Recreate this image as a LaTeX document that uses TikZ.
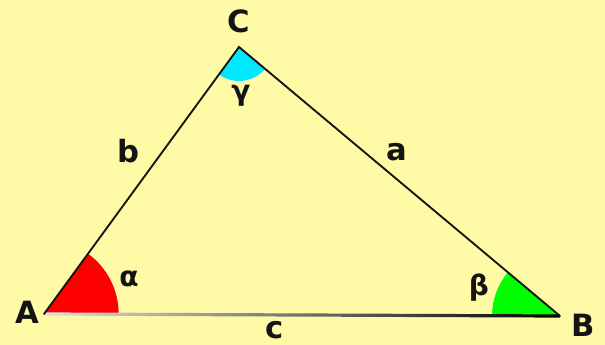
\documentclass[tikz,border=0pt]{standalone}
\usepackage{fontspec}
\setmainfont{DejaVu Sans}
\usetikzlibrary{angles,calc}
\definecolor{paper}{HTML}{FFFAA6}
\definecolor{ink}{HTML}{141414}
\definecolor{angA}{HTML}{FF0000}
\definecolor{angB}{HTML}{00FF00}
\definecolor{angC}{HTML}{00E8FF}
\definecolor{baselight}{HTML}{E0E0E0}
\newcommand{\vtx}{\fontsize{23}{25}\selectfont\bfseries}
\newcommand{\grk}{\fontsize{21}{23}\selectfont\bfseries}

\begin{document}
\begin{tikzpicture}[x=0.75pt,y=0.75pt,
  lbl/.style={inner sep=0,text=ink,font=\vtx},
  glbl/.style={inner sep=0,text=ink,font=\grk},
  side/.style={ink,line width=1.4pt,line cap=round}]
\useasboundingbox (0,0) rectangle (605,345);
\fill[paper] (0,0) rectangle (605,345);
% corners
\coordinate (A) at (44,31);
\coordinate (B) at (560,29);
\coordinate (C) at (239,298);
% angle fills
\pic[fill=angA,angle radius=56pt] {angle=B--A--C};
\pic[fill=angB,angle radius=51pt] {angle=C--B--A};
\pic[fill=angC,angle radius=25.5pt] {angle=A--C--B};
% sides
\shade[left color=baselight,right color=black] ($(A)+(0,1.6)$) -- ($(B)+(0,1.6)$) -- ($(B)+(0,-1.6)$) -- ($(A)+(0,-1.6)$) -- cycle;
\draw[side] (A) -- (C) -- (B);
% labels
\node[lbl] (lA) at (27,33) {A};
\node[lbl] (lB) at (583,20) {B};
\node[lbl] (lC) at (239,324) {C};
\node[lbl] (la) at (397,193) {a};
\node[lbl] (lb) at (128,194) {b};
\node[lbl] (lc) at (275,15) {c};
\node[glbl] (lal) at (129,66) {α};
\node[glbl] (lbe) at (479,57) {β};
\node[glbl] (lga) at (241,249) {γ};
\end{tikzpicture}
\end{document}
